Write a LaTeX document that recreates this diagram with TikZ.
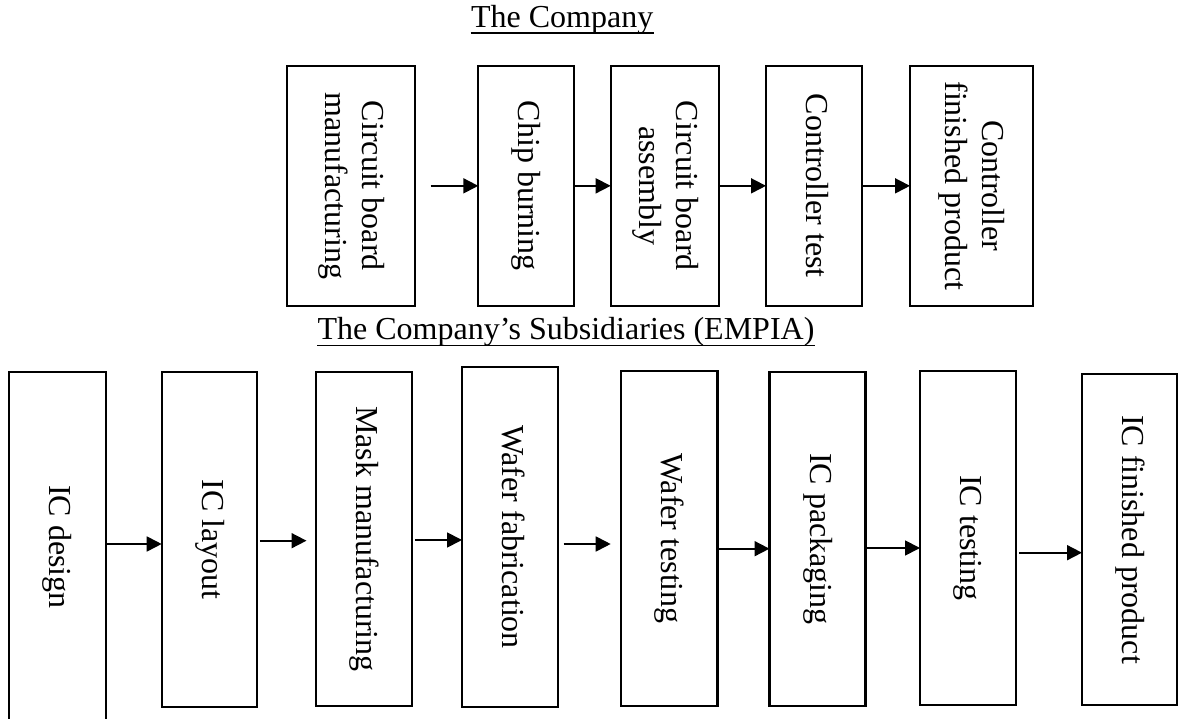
\documentclass[tikz,border=0pt]{standalone}
\usepackage{graphicx}
\usepackage{fontspec}
\setmainfont{Liberation Serif}
\usetikzlibrary{arrows.meta}

\newcommand{\vlabel}[1]{\rotatebox{-90}{\begin{tabular}{@{}c@{}}#1\end{tabular}}}

\begin{document}
\begin{tikzpicture}[font=\fontsize{18.21}{21.06}\selectfont,
    blk/.style={draw, line width=1.2pt, inner sep=0pt, outer sep=0pt},
    arr/.style={-{Triangle[length=0.3cm,width=0.3cm]}, line width=1pt},
    ttlline/.style={line width=1.1pt}]
\useasboundingbox (0,0) rectangle (23.56,14.38);

% the company
\node[anchor=base, inner sep=0pt] (ttl) at (11.243,13.82) {The Company};
\draw[ttlline] ([yshift=-0.106cm]ttl.base west) -- ([yshift=-0.106cm]ttl.base east);

\node[blk, minimum width=2.554cm, minimum height=4.806cm] (t1) at (7.023,10.663) {\vlabel{Circuit board\\manufacturing}};
\node[blk, minimum width=1.92cm, minimum height=4.806cm] (t2) at (10.526,10.663) {\vlabel{Chip burning}};
\node[blk, minimum width=2.172cm, minimum height=4.806cm] (t3) at (13.30,10.663) {\vlabel{Circuit board\\assembly}};
\node[blk, minimum width=1.926cm, minimum height=4.806cm] (t4) at (16.283,10.663) {\vlabel{Controller test}};
\node[blk, minimum width=2.466cm, minimum height=4.806cm] (t5) at (19.433,10.663) {\vlabel{Controller\\finished product}};

\draw[arr, shorten <=0.314cm] (t1) -- (t2);
\foreach \a/\b in {t2/t3,t3/t4,t4/t5}
    \draw[arr] (\a) -- (\b);

% the subsidiaries
\node[anchor=base, inner sep=0pt] (sub) at (11.32,7.58) {The Company’s Subsidiaries (EMPIA)};
\draw[ttlline] ([yshift=-0.11cm]sub.base west) -- ([yshift=-0.11cm]sub.base east);

\node[blk, minimum width=1.934cm, minimum height=7.0cm] (b1) at (1.147,3.44) {\vlabel{IC design}};
\node[blk, minimum width=1.912cm, minimum height=6.7cm] (b2) at (4.19,3.59) {\vlabel{IC layout}};
\node[blk, minimum width=1.926cm, minimum height=6.68cm] (b3) at (7.283,3.60) {\vlabel{Mask manufacturing}};
\node[blk, minimum width=1.914cm, minimum height=6.8cm] (b4) at (10.197,3.64) {\vlabel{Wafer fabrication}};
\node[blk, minimum width=1.936cm, minimum height=6.7cm] (b5) at (13.382,3.61) {\vlabel{Wafer testing}};
\node[blk, minimum width=1.92cm, minimum height=6.68cm] (b6) at (16.35,3.60) {\vlabel{IC packaging}};
\node[blk, minimum width=1.92cm, minimum height=6.68cm] (b7) at (19.36,3.62) {\vlabel{IC testing}};
\node[blk, minimum width=1.9cm, minimum height=6.62cm] (b8) at (22.59,3.59) {\vlabel{IC finished product}};

\foreach \a/\b/\y/\s/\e in {b1/b2/3.5/0/0, b2/b3/3.566/0.05/0.19, b3/b4/3.58/0.05/0,
    b4/b5/3.5/0.12/0.2, b5/b6/3.406/0/0, b6/b7/3.42/0/0, b7/b8/3.326/0.06/0}
    \draw[arr, shorten <=\s cm, shorten >=\e cm] (\a.east |- 0,\y) -- (\b.west |- 0,\y);
\end{tikzpicture}
\end{document}
